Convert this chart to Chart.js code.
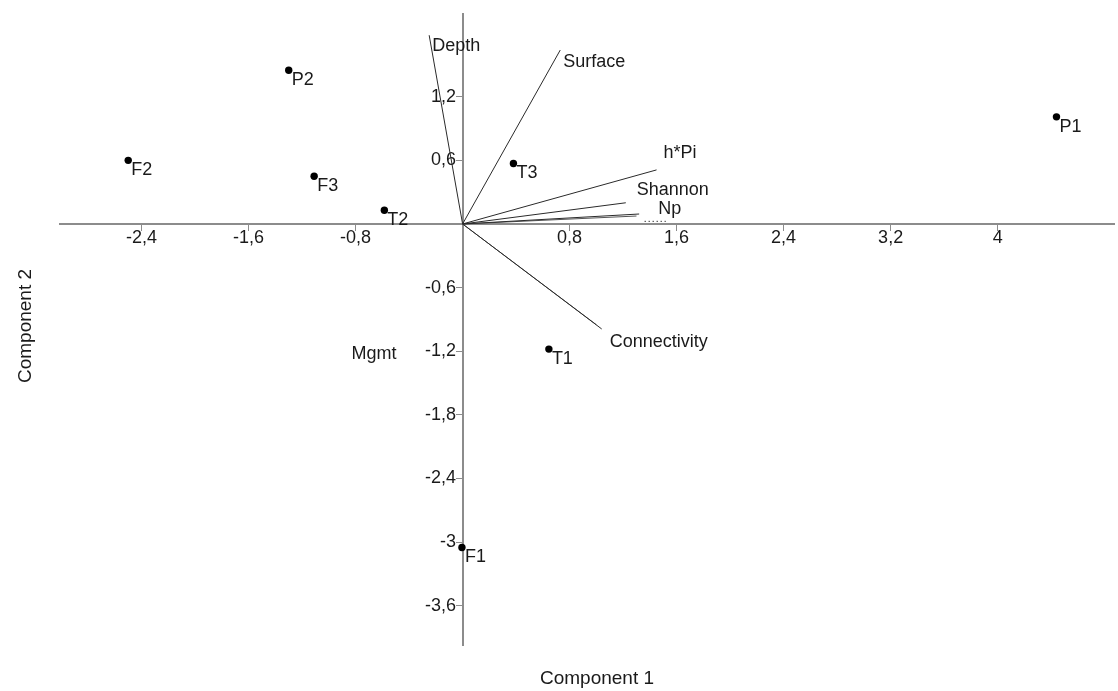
<!DOCTYPE html>
<html>
<head>
<meta charset="utf-8">
<script src="https://cdn.jsdelivr.net/npm/chart.js@4.4.1/dist/chart.umd.min.js"></script>
<style>
  html, body { margin: 0; padding: 0; background: #fff; }
  #wrap { width: 1118px; height: 691px; }
</style>
</head>
<body>
<div id="wrap"><canvas id="biplot" width="1118" height="691"></canvas></div>
<script>
// site scores (component 1 / component 2)
const siteNames = ["P1", "P2", "F1", "F2", "F3", "T1", "T2", "T3"];
const siteX = [4.44, -1.30, -0.005, -2.50, -1.11, 0.645, -0.585, 0.38];
const siteY = [1.01, 1.45, -3.05, 0.60, 0.45, -1.18, 0.13, 0.57];

// variable loadings, drawn as vectors from the origin
const varNames = ["Depth", "Surface", "h*Pi", "Shannon", "Np", "Connectivity", "Mgmt"];
const varX = [-0.25, 0.73, 1.45, 1.22, 1.32, 1.04, 0];
const varY = [1.78, 1.64, 0.51, 0.20, 0.094, -0.99, 0];

// second, almost overlapping strokes seen in the picture
const ghostX = [1.0, 1.30];
const ghostY = [-0.95, 0.075];
// short dotted trace near the Np vector
const dotX = [1.36, 1.52];
const dotY = [0.025, 0.025];

const xTicks = [-2.4, -1.6, -0.8, 0.8, 1.6, 2.4, 3.2, 4];
const yTicks = [1.2, 0.6, -0.6, -1.2, -1.8, -2.4, -3, -3.6];

// label placement, in pixels from the vector tip
const varLabelOffset = {
  "Depth": [3, 11],
  "Surface": [3, 12],
  "h*Pi": [7, -17],
  "Shannon": [11, -13],
  "Np": [19, -5],
  "Connectivity": [8, 13],
  "Mgmt": [-111, 130],
};

const FONT = '"Liberation Sans", Arial, sans-serif';
const TEXT = "#1a1a1a";
const AXIS = "#8c8c8c";

const fmt = (v) => String(Math.round(v * 10) / 10).replace(".", ",");

const datasets = [
  {
    label: "sites",
    data: siteX.map((x, i) => ({ x, y: siteY[i] })),
    pointRadius: 3.7,
    pointBackgroundColor: "#000",
    pointBorderWidth: 0,
    showLine: false,
  },
];
varNames.forEach((name, i) => {
  datasets.push({
    label: name,
    data: [{ x: 0, y: 0 }, { x: varX[i], y: varY[i] }],
    showLine: true,
    borderColor: "#2a2a2a",
    borderWidth: 1,
    pointRadius: 0,
  });
});
ghostX.forEach((gx, i) => {
  datasets.push({
    label: "ghost" + i,
    data: [{ x: 0, y: 0 }, { x: gx, y: ghostY[i] }],
    showLine: true,
    borderColor: "#555",
    borderWidth: 1,
    pointRadius: 0,
  });
});
datasets.push({
  label: "dots",
  data: dotX.map((x, i) => ({ x, y: dotY[i] })),
  showLine: true,
  borderColor: "#444",
  borderWidth: 1,
  borderDash: [1.5, 2.5],
  pointRadius: 0,
});

const textLayer = {
  id: "textLayer",
  afterDatasetsDraw(chart) {
    const { ctx, scales } = chart;
    const sx = scales.x, sy = scales.y;
    ctx.save();
    ctx.font = "18px " + FONT;
    ctx.fillStyle = TEXT;
    ctx.textBaseline = "middle";
    ctx.textAlign = "left";

    siteNames.forEach((n, i) => {
      ctx.fillText(n, sx.getPixelForValue(siteX[i]) + 3, sy.getPixelForValue(siteY[i]) + 10);
    });
    varNames.forEach((n, i) => {
      const off = varLabelOffset[n] || [3, 10];
      ctx.fillText(n, sx.getPixelForValue(varX[i]) + off[0], sy.getPixelForValue(varY[i]) + off[1]);
    });

    // axis titles
    ctx.font = "19px " + FONT;
    ctx.textAlign = "center";
    ctx.fillText("Component 1", 597, 679);
    ctx.translate(26, 326);
    ctx.rotate(-Math.PI / 2);
    ctx.fillText("Component 2", 0, 0);
    ctx.restore();
  },
};

new Chart(document.getElementById("biplot").getContext("2d"), {
  type: "scatter",
  data: { datasets },
  options: {
    responsive: false,
    animation: false,
    layout: { padding: { left: 60, right: 0, top: 14, bottom: 46 } },
    plugins: {
      legend: { display: false },
      tooltip: { enabled: false },
    },
    scales: {
      x: {
        type: "linear",
        min: -3.01,
        max: 4.87,
        position: { y: 0 },
        afterBuildTicks: (s) => { s.ticks = xTicks.map((v) => ({ value: v })); },
        ticks: {
          autoSkip: false,
          maxRotation: 0,
          padding: -3,
          color: TEXT,
          font: { family: FONT, size: 18 },
          callback: (v) => fmt(v),
        },
        grid: { drawOnChartArea: false, drawTicks: true, tickLength: 6, color: AXIS, lineWidth: 1 },
        border: { display: true, color: AXIS, width: 2 },
      },
      y: {
        type: "linear",
        min: -3.97,
        max: 1.98,
        position: { x: 0 },
        afterBuildTicks: (s) => { s.ticks = yTicks.map((v) => ({ value: v })); },
        ticks: {
          autoSkip: false,
          color: TEXT,
          font: { family: FONT, size: 18 },
          // keep the label clear of the tick mark
          callback: (v) => fmt(v) + " \u200A",
        },
        grid: { drawOnChartArea: false, drawTicks: true, tickLength: 6, color: AXIS, lineWidth: 1 },
        border: { display: true, color: AXIS, width: 2 },
      },
    },
  },
  plugins: [textLayer],
});
</script>
</body>
</html>
